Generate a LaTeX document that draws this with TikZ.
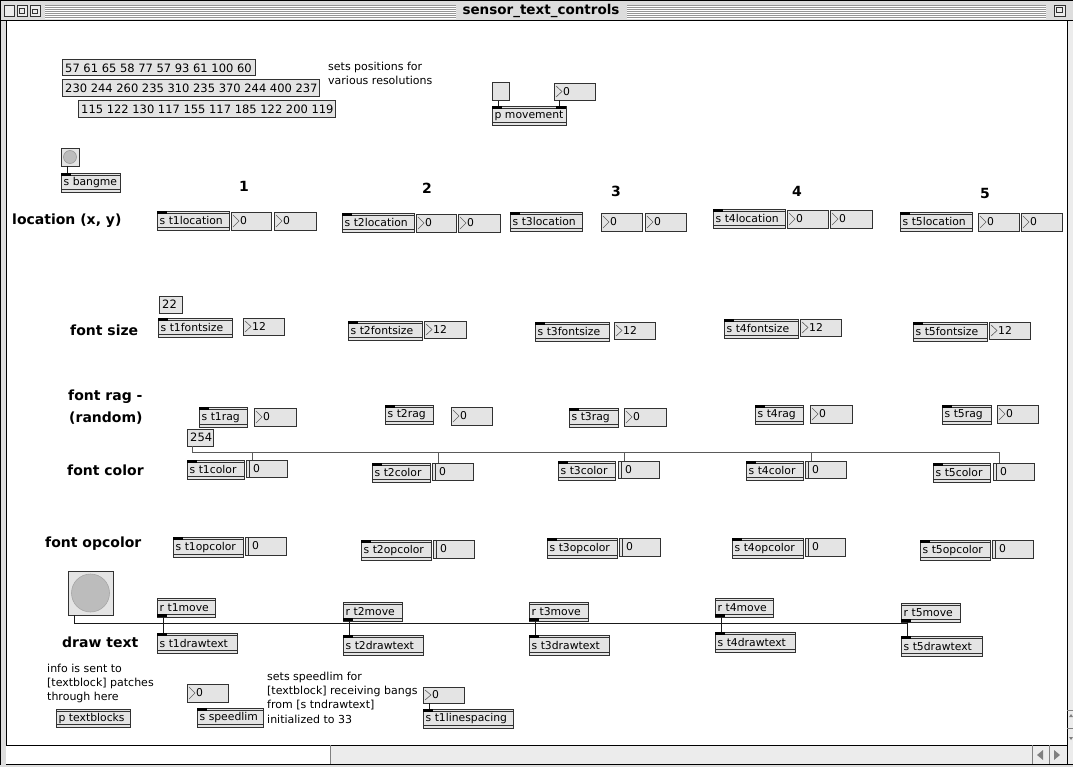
\documentclass[tikz,border=0pt]{standalone}
\usepackage{fontspec}
\setmainfont{DejaVu Sans}
\definecolor{boxfill}{RGB}{228,228,228}
\definecolor{boxline}{RGB}{50,50,50}
\definecolor{wirec}{RGB}{25,25,25}
\definecolor{wirec2}{RGB}{90,90,90}
\definecolor{tbar}{RGB}{221,221,221}
\definecolor{stripe}{RGB}{150,150,150}
\definecolor{bangc}{RGB}{188,188,188}
\definecolor{sbar}{RGB}{236,236,236}
\tikzset{
 objb/.style={draw=boxline, fill=boxfill, line width=0.9pt, anchor=north west, inner sep=0pt, outer sep=0pt},
 msgb/.style={draw=boxline, fill=boxfill, line width=1pt, anchor=north west, inner sep=0pt, outer sep=0pt},
 mtxt/.style={inner sep=0pt, font=\fontsize{10.8}{12}\selectfont, text=black},
 msgtxt/.style={inner sep=0pt, font=\fontsize{11.5}{12}\selectfont, text=black},
 lbl/.style={inner sep=0pt, font=\fontsize{14}{15}\selectfont\bfseries, anchor=west},
 colnum/.style={inner sep=0pt, font=\fontsize{14}{15}\selectfont\bfseries},
 cmt/.style={inner sep=0pt, font=\fontsize{11}{12}\selectfont, anchor=west},
 wire/.style={draw=wirec, line width=0.9pt},
 wireg/.style={draw=wirec2, line width=0.9pt},
 rail/.style={draw=boxline, line width=0.7pt},
}
\newcommand\mxobj[6]{%
  \node[objb, minimum width={#4-#2}, minimum height={#5-#3}] (#1) at (#2,#3) {};
  \draw[rail] ([yshift=-2.5]#1.north west) -- ([yshift=-2.5]#1.north east);
  \draw[rail] ([yshift=2.5]#1.south west) -- ([yshift=2.5]#1.south east);
  \node[mtxt, anchor=west] (#1-t) at ([xshift=2.5,yshift=-0.3]#1.west) {#6};}
\newcommand\mxnum[6]{%
  \node[objb, minimum width={#4-#2}, minimum height={#5-#3}] (#1) at (#2,#3) {};
  \draw[gray!75!black, line width=0.6pt] ([xshift=2,yshift=-3]#1.north west) -- ([xshift=8]#1.west) -- ([xshift=2,yshift=3]#1.south west);
  \node[mtxt, anchor=west] (#1-t) at ([xshift=9]#1.west) {#6};}
\newcommand\mxnumb[6]{%
  \node[objb, minimum width={#4-#2}, minimum height={#5-#3}] (#1) at (#2,#3) {};
  \draw[boxline, line width=0.6pt] ([xshift=3]#1.north west) -- ([xshift=3]#1.south west);
  \node[mtxt, anchor=west] (#1-t) at ([xshift=7]#1.west) {#6};}
\newcommand\mxmsg[6]{%
  \node[msgb, minimum width={#4-#2}, minimum height={#5-#3}] (#1) at (#2,#3) {};
  \node[msgtxt, anchor=west] (#1-t) at ([xshift=3]#1.west) {#6};}
\newcommand\mxin[1]{\fill[black] (#1.north west) rectangle ([xshift=10,yshift=-3]#1.north west);}
\newcommand\mxinr[1]{\fill[black] (#1.north east) rectangle ([xshift=-10,yshift=-3]#1.north east);}
\newcommand\mxout[1]{\fill[black] (#1.south west) rectangle ([xshift=10,yshift=3]#1.south west);}
\begin{document}
\begin{tikzpicture}[x=1pt,y=-1pt]
\useasboundingbox (0,0) rectangle (1073,767);
\fill[white] (0,0) rectangle (1073,767);
% ---------- window chrome ----------
\fill[tbar] (0,0) rectangle (1073,21);
\foreach \yy in {5,7,...,17}{
  \draw[stripe, line width=0.7pt] (45,\yy) -- (456,\yy);
  \draw[stripe, line width=0.7pt] (627,\yy) -- (1046,\yy);
  \draw[white, line width=0.7pt] (45,\yy+1) -- (456,\yy+1);
  \draw[white, line width=0.7pt] (627,\yy+1) -- (1046,\yy+1);
}
\draw[black, line width=1pt] (0,0.5) -- (1073,0.5);
\draw[black, line width=1pt] (0,21) -- (1073,21);
\node[inner sep=0pt, font=\fontsize{13.5}{15}\selectfont\bfseries] (title) at (541,11) {sensor\_text\_controls};
\draw[boxline, fill=sbar, line width=0.8pt] (4,5) rectangle (14,16);
\draw[boxline, fill=sbar, line width=0.8pt] (17,5) rectangle (27,16);
\draw[boxline, line width=0.6pt] (19.5,8) rectangle (24.5,13);
\draw[boxline, fill=sbar, line width=0.8pt] (30,5) rectangle (40,16);
\draw[boxline, line width=0.6pt] (32.5,9) rectangle (37.5,13);
\draw[boxline, fill=sbar, line width=0.8pt] (1054,5) rectangle (1065,16);
\draw[boxline, line width=0.6pt] (1056.5,7.5) rectangle (1062.5,12);
% left frame
\fill[tbar] (0,21) rectangle (6,767);
\draw[black, line width=1pt] (0.5,0) -- (0.5,767);
\draw[black, line width=1pt] (6,21) -- (6,764);
% right scroll strip
\fill[sbar] (1067,21) rectangle (1073,764);
\draw[black, line width=1pt] (1067,21) -- (1067,764);
\draw[gray, line width=0.7pt] (1067,710) -- (1073,710);
\draw[gray, line width=0.7pt] (1067,728) -- (1073,728);
\fill[gray] (1071,714) -- (1073,717) -- (1069,717) -- cycle;
\fill[gray] (1071,740) -- (1073,737) -- (1069,737) -- cycle;
% bottom scrollbar
\fill[white] (6,745) rectangle (330,764);
\fill[sbar] (330,745) rectangle (1067,764);
\draw[black, line width=1pt] (6,745) -- (1067,745);
\draw[black, line width=1pt] (6,764) -- (1073,764);
\draw[gray, line width=0.7pt] (330,745) -- (330,764);
\draw[gray, line width=0.7pt] (1032,745) -- (1032,764);
\draw[gray, line width=0.7pt] (1049,745) -- (1049,764);
\fill[gray] (1043,750) -- (1043,760) -- (1037,755) -- cycle;
\fill[gray] (1054,750) -- (1054,760) -- (1060,755) -- cycle;
\fill[tbar] (0,765) rectangle (1073,767);
% ---------- top message boxes ----------
\mxmsg{m1}{62}{60}{255}{76}{57 61 65 58 77 57 93 61 100 60}
\mxmsg{m2}{62}{80}{319}{97}{230 244 260 235 310 235 370 244 400 237}
\mxmsg{m3}{78}{101}{335}{118}{115 122 130 117 155 117 185 122 200 119}
\node[cmt] (cm1) at (328,67) {sets positions for};
\node[cmt] (cm2) at (328,80) {various resolutions};
% p movement
\mxmsg{pmb}{492}{83}{509}{101}{}
\mxnum{pmn}{554}{83}{595}{100}{0}
\mxobj{pmov}{492}{106}{566}{125}{p movement}\mxin{pmov}\mxinr{pmov}
\coordinate (pmbo) at ([xshift=6]pmb.south west);
\coordinate (pmno) at ([xshift=5]pmn.south west);
\draw[wire] (pmbo) -- (pmbo |- pmov.north);
\draw[wire] (pmno) -- (pmno |- pmov.north);
% bangme
\node[objb, minimum width=18, minimum height=18] (bng1) at (61,148) {};
\node[circle, fill=bangc, draw=gray!80, line width=0.6pt, minimum size=13, inner sep=0pt] (bng1c) at (bng1.center) {};
\mxobj{sbang}{61}{173}{120}{192}{s bangme}\mxin{sbang}
\coordinate (b1o) at ([xshift=6]bng1.south west);
\draw[wire] (b1o) -- (b1o |- sbang.north);
% column numbers
\node[colnum] (k1) at (244,186) {1};
\node[colnum] (k2) at (427,188) {2};
\node[colnum] (k3) at (616,191) {3};
\node[colnum] (k4) at (797,191) {4};
\node[colnum] (k5) at (985,193) {5};
% labels
\node[lbl] (lloc) at (12,221) {location (x, y)};
\node[lbl] (lfs) at (70,330) {font size};
\node[lbl] (lfr1) at (68,397) {font rag -};
\node[lbl] (lfr2) at (69,418) {(random)};
\node[lbl] (lfc) at (67,470) {font color};
\node[lbl] (lfo) at (45,544) {font opcolor};
\node[lbl] (ldt) at (62,642) {draw text};
% location row
\mxobj{l1}{157}{211}{229}{230}{s t1location}\mxin{l1}
\mxnum{l1a}{231}{212}{271}{230}{0}
\mxnum{l1b}{274}{212}{316}{230}{0}
\mxobj{l2}{342}{213}{414}{232}{s t2location}\mxin{l2}
\mxnum{l2a}{416}{214}{456}{232}{0}
\mxnum{l2b}{458}{214}{500}{232}{0}
\mxobj{l3}{510}{212}{582}{231}{s t3location}\mxin{l3}
\mxnum{l3a}{601}{213}{642}{231}{0}
\mxnum{l3b}{645}{213}{686}{231}{0}
\mxobj{l4}{713}{209}{785}{228}{s t4location}\mxin{l4}
\mxnum{l4a}{787}{210}{828}{228}{0}
\mxnum{l4b}{830}{210}{872}{228}{0}
\mxobj{l5}{900}{212}{972}{231}{s t5location}\mxin{l5}
\mxnum{l5a}{978}{213}{1019}{231}{0}
\mxnum{l5b}{1021}{213}{1062}{231}{0}
% font size row
\mxmsg{m22}{159}{296}{182}{313}{22}
\mxobj{f1}{158}{318}{232}{337}{s t1fontsize}\mxin{f1}
\mxnum{f1n}{243}{318}{284}{335}{12}
\mxobj{f2}{348}{321}{422}{340}{s t2fontsize}\mxin{f2}
\mxnum{f2n}{424}{321}{466}{338}{12}
\mxobj{f3}{535}{322}{609}{341}{s t3fontsize}\mxin{f3}
\mxnum{f3n}{614}{322}{655}{339}{12}
\mxobj{f4}{724}{319}{798}{338}{s t4fontsize}\mxin{f4}
\mxnum{f4n}{800}{319}{841}{336}{12}
\mxobj{f5}{913}{322}{987}{341}{s t5fontsize}\mxin{f5}
\mxnum{f5n}{989}{322}{1030}{339}{12}
% rag row
\mxobj{r1}{199}{407}{247}{427}{s t1rag}\mxin{r1}
\mxnum{r1n}{254}{408}{296}{426}{0}
\mxobj{r2}{385}{405}{433}{424}{s t2rag}\mxin{r2}
\mxnum{r2n}{451}{407}{492}{425}{0}
\mxobj{r3}{569}{408}{618}{427}{s t3rag}\mxin{r3}
\mxnum{r3n}{624}{408}{666}{426}{0}
\mxobj{r4}{755}{405}{803}{424}{s t4rag}\mxin{r4}
\mxnum{r4n}{810}{405}{852}{423}{0}
\mxobj{r5}{942}{405}{991}{424}{s t5rag}\mxin{r5}
\mxnum{r5n}{997}{405}{1038}{423}{0}
% color row
\mxmsg{m254}{187}{429}{213}{446}{254}
\mxobj{c1}{187}{460}{244}{479}{s t1color}\mxin{c1}
\mxnumb{c1n}{246}{460}{287}{477}{0}
\mxobj{c2}{372}{463}{430}{482}{s t2color}\mxin{c2}
\mxnumb{c2n}{432}{463}{473}{480}{0}
\mxobj{c3}{558}{461}{615}{480}{s t3color}\mxin{c3}
\mxnumb{c3n}{618}{461}{659}{478}{0}
\mxobj{c4}{746}{461}{803}{480}{s t4color}\mxin{c4}
\mxnumb{c4n}{805}{461}{846}{478}{0}
\mxobj{c5}{933}{463}{990}{482}{s t5color}\mxin{c5}
\mxnumb{c5n}{993}{463}{1034}{480}{0}
\coordinate (bus1) at (0,452);
\coordinate (n254o) at ([xshift=5]m254.south west);
\foreach \i in {1,...,5}{
  \coordinate (ci\i) at ([xshift=6]c\i n.north west);
  \draw[wireg] (n254o) |- (ci\i |- bus1) -- (ci\i);
}
% opcolor row
\mxobj{o1}{173}{537}{243}{557}{s t1opcolor}\mxin{o1}
\mxnumb{o1n}{245}{537}{286}{555}{0}
\mxobj{o2}{361}{540}{431}{560}{s t2opcolor}\mxin{o2}
\mxnumb{o2n}{433}{540}{474}{558}{0}
\mxobj{o3}{547}{538}{617}{558}{s t3opcolor}\mxin{o3}
\mxnumb{o3n}{619}{538}{660}{556}{0}
\mxobj{o4}{732}{538}{803}{558}{s t4opcolor}\mxin{o4}
\mxnumb{o4n}{805}{538}{845}{556}{0}
\mxobj{o5}{920}{540}{990}{560}{s t5opcolor}\mxin{o5}
\mxnumb{o5n}{992}{540}{1033}{558}{0}
% draw text row
\node[objb, minimum width=45, minimum height=44] (bbig) at (68,571) {};
\node[circle, fill=bangc, draw=gray!70, line width=0.6pt, minimum size=38, inner sep=0pt] (bbigc) at (bbig.center) {};
\mxobj{mv1}{157}{598}{215}{617}{r t1move}\mxout{mv1}
\mxobj{d1}{157}{633}{237}{653}{s t1drawtext}\mxin{d1}
\mxobj{mv2}{343}{602}{402}{621}{r t2move}\mxout{mv2}
\mxobj{d2}{343}{635}{423}{655}{s t2drawtext}\mxin{d2}
\mxobj{mv3}{529}{602}{588}{621}{r t3move}\mxout{mv3}
\mxobj{d3}{529}{635}{609}{655}{s t3drawtext}\mxin{d3}
\mxobj{mv4}{715}{598}{773}{617}{r t4move}\mxout{mv4}
\mxobj{d4}{715}{632}{795}{652}{s t4drawtext}\mxin{d4}
\mxobj{mv5}{901}{603}{960}{622}{r t5move}\mxout{mv5}
\mxobj{d5}{901}{636}{982}{656}{s t5drawtext}\mxin{d5}
\coordinate (bus2) at (0,623);
\coordinate (bbo) at ([xshift=6]bbig.south west);
\foreach \i in {1,...,5}{
  \coordinate (di\i) at ([xshift=6]d\i.north west);
  \draw[wire] (bbo) |- (di\i |- bus2) -- (di\i);
  \draw[wire] ([xshift=6]mv\i.south west) -- (di\i);
}
% bottom area
\node[cmt] (ci1) at (47,668) {info is sent to};
\node[cmt] (ci2) at (47,683) {[textblock] patches};
\node[cmt] (ci3) at (47,697) {through here};
\mxobj{ptb}{56}{709}{130}{727}{p textblocks}
\mxnum{spn}{187}{684}{228}{702}{0}
\mxobj{spl}{197}{708}{263}{727}{s speedlim}\mxin{spl}
\node[cmt] (cs1) at (267,677) {sets speedlim for};
\node[cmt] (cs2) at (267,691) {[textblock] receiving bangs};
\node[cmt] (cs3) at (267,705) {from [s tndrawtext]};
\node[cmt] (cs4) at (267,719) {initialized to 33};
\mxnum{lsn}{423}{687}{464}{703}{0}
\mxobj{lsp}{423}{709}{513}{728}{s t1linespacing}\mxin{lsp}
\coordinate (lso) at ([xshift=6]lsn.south west);
\draw[wire] (lso) -- (lso |- lsp.north);
\end{tikzpicture}
\end{document}
